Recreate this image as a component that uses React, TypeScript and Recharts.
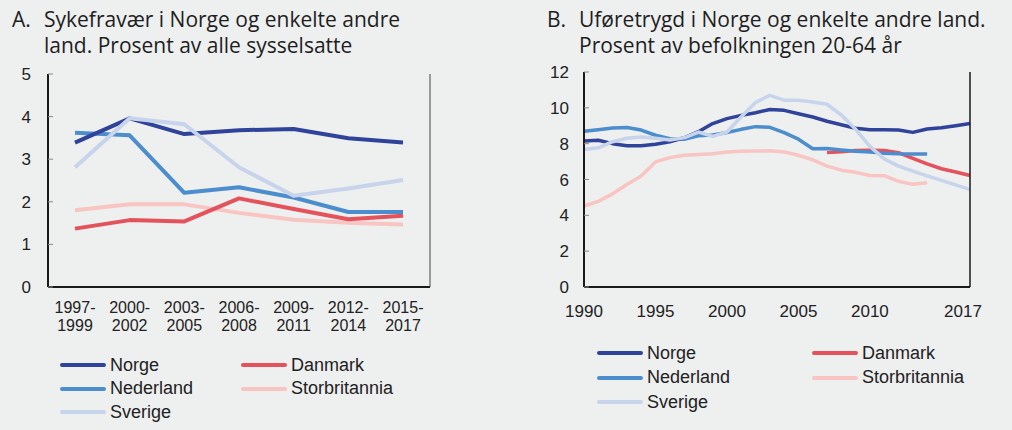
import * as React from 'react';
import { LineChart, Line, XAxis, YAxis } from 'recharts';

const categoriesA = ['1997-1999', '2000-2002', '2003-2005', '2006-2008', '2009-2011', '2012-2014', '2015-2017'];
const norgeA = [3.39, 3.96, 3.59, 3.68, 3.71, 3.49, 3.39];
const nederlandA = [3.62, 3.56, 2.21, 2.34, 2.1, 1.76, 1.76];
const sverigeA = [2.81, 3.96, 3.82, 2.81, 2.14, 2.31, 2.51];
const danmarkA = [1.37, 1.57, 1.54, 2.08, 1.83, 1.59, 1.67];
const storbritanniaA = [1.8, 1.94, 1.94, 1.74, 1.58, 1.51, 1.47];

const yearsB = [
  1990, 1991, 1992, 1993, 1994, 1995, 1996, 1997, 1998, 1999, 2000, 2001, 2002, 2003,
  2004, 2005, 2006, 2007, 2008, 2009, 2010, 2011, 2012, 2013, 2014, 2015, 2016, 2017,
];
const norgeB = [
  8.15, 8.19, 8.0, 7.88, 7.88, 7.97, 8.1, 8.33, 8.67, 9.12, 9.4, 9.58, 9.73, 9.91,
  9.86, 9.67, 9.49, 9.25, 9.06, 8.86, 8.78, 8.78, 8.76, 8.63, 8.82, 8.89, 9.0, 9.12,
];
const nederlandB = [
  8.69, 8.78, 8.87, 8.9, 8.76, 8.47, 8.28, 8.25, 8.44, 8.48, 8.62, 8.8, 8.95, 8.91,
  8.62, 8.25, 7.72, 7.73, 7.65, 7.58, 7.53, 7.47, 7.44, 7.43, 7.42, null, null, null,
];
const sverigeB = [
  7.67, 7.77, 8.11, 8.3, 8.37, 8.3, 8.21, 8.33, 8.65, 8.41, 8.65, 9.5, 10.3, 10.7,
  10.43, 10.42, 10.33, 10.2, 9.6, 8.8, 7.85, 7.15, 6.75, 6.47, 6.2, 5.95, 5.7, 5.43,
];
const danmarkB = [
  null, null, null, null, null, null, null, null, null, null, null, null, null, null,
  null, null, null, 7.5, 7.55, 7.62, 7.63, 7.62, 7.5, 7.18, 6.87, 6.6, 6.42, 6.22,
];
const storbritanniaB = [
  4.52, 4.78, 5.2, 5.72, 6.2, 6.98, 7.22, 7.35, 7.4, 7.44, 7.53, 7.57, 7.59, 7.6,
  7.54, 7.35, 7.1, 6.75, 6.52, 6.4, 6.22, 6.21, 5.9, 5.73, 5.82, null, null, null,
];

const ticksA = [0, 1, 2, 3, 4, 5];
const ticksB = [0, 2, 4, 6, 8, 10, 12];
const yearTicksB = [1990, 1995, 2000, 2005, 2010, 2017];

// draw order: light pink at the bottom, Sverige on top
const series = [
  { key: 'storbritannia', name: 'Storbritannia', color: '#f8c5c3' },
  { key: 'danmark', name: 'Danmark', color: '#e4525b' },
  { key: 'nederland', name: 'Nederland', color: '#4c8dcd' },
  { key: 'norge', name: 'Norge', color: '#30439a' },
  { key: 'sverige', name: 'Sverige', color: '#c7d4ec' },
];
const legendCol1 = ['norge', 'nederland', 'sverige'];
const legendCol2 = ['danmark', 'storbritannia'];

const dataA = categoriesA.map((cat, i) => ({
  cat,
  norge: norgeA[i],
  nederland: nederlandA[i],
  sverige: sverigeA[i],
  danmark: danmarkA[i],
  storbritannia: storbritanniaA[i],
}));

const dataB = yearsB.map((year, i) => ({
  year,
  norge: norgeB[i],
  nederland: nederlandB[i],
  sverige: sverigeB[i],
  danmark: danmarkB[i],
  storbritannia: storbritanniaB[i],
}));

const FONT = '"Liberation Sans", Arial, sans-serif';
const TEXT = '#222';
const tickStyle = { fontSize: 17, fill: TEXT, fontFamily: FONT };

function CategoryTick(props: any) {
  const { x, y, payload } = props;
  const [a, b] = String(payload.value).split('-');
  return (
    <text textAnchor="middle" fontSize={16} fill={TEXT} fontFamily={FONT}>
      <tspan x={x} y={y + 26}>{a}-</tspan>
      <tspan x={x} y={y + 44}>{b}</tspan>
    </text>
  );
}

// the last year label sits a little inside the right edge
function YearTick(props: any) {
  const { x, y, payload } = props;
  const shift = payload.value === 2017 ? -7 : 0;
  return (
    <text x={x + shift} y={y} dy="0.71em" textAnchor="middle" fontSize={17} fill={TEXT} fontFamily={FONT}>
      {payload.value}
    </text>
  );
}

function Title({ left, letter, lines }: { left: number; letter: string; lines: string[] }) {
  return (
    <div
      style={{
        position: 'absolute',
        left,
        top: 6,
        fontFamily: '"Open Sans", sans-serif',
        fontSize: 21,
        lineHeight: '26px',
        color: '#1e1e1e',
        display: 'flex',
      }}
    >
      <div style={{ width: 32 }}>{letter}</div>
      <div>
        {lines.map((l) => (
          <div key={l}>{l}</div>
        ))}
      </div>
    </div>
  );
}

function LegendBlock({ left, top, gap, col2 }: { left: number; top: number; gap: number; col2: number }) {
  const item = (key: string, x: number, y: number) => {
    const s = series.find((d) => d.key === key)!;
    return (
      <div key={key} style={{ position: 'absolute', left: x, top: y - 11, display: 'flex', alignItems: 'center', height: 22 }}>
        <div style={{ width: 46, height: 4, borderRadius: 2, background: s.color, marginRight: 4 }} />
        <span style={{ fontFamily: FONT, fontSize: 18, color: TEXT }}>{s.name}</span>
      </div>
    );
  };
  return (
    <>
      {legendCol1.map((k, i) => item(k, left, top + i * gap))}
      {legendCol2.map((k, i) => item(k, left + col2, top + i * gap))}
    </>
  );
}

export default function App() {
  return (
    <div style={{ position: 'absolute', left: 0, top: 0, width: 1012, height: 430, background: '#eeefef', overflow: 'hidden' }}>
      <Title left={12} letter="A." lines={['Sykefravær i Norge og enkelte andre', 'land. Prosent av alle sysselsatte']} />
      <Title left={547} letter="B." lines={['Uføretrygd i Norge og enkelte andre land.', 'Prosent av befolkningen 20-64 år']} />

      <div style={{ position: 'absolute', left: 0, top: 0 }}>
        <LineChart width={470} height={340} data={dataA} margin={{ top: 74, right: 0, bottom: 0, left: 0 }}>
          <XAxis
            dataKey="cat"
            height={53}
            padding={{ left: 27, right: 27 }}
            axisLine={{ stroke: '#1a1a1a', strokeWidth: 2 }}
            tickLine={false}
            tickSize={0}
            tickMargin={0}
            interval={0}
            tick={<CategoryTick />}
          />
          <YAxis
            yAxisId="left"
            width={48}
            domain={[0, 5]}
            ticks={ticksA}
            interval={0}
            axisLine={{ stroke: '#1a1a1a', strokeWidth: 2 }}
            tickLine={{ stroke: '#888' }}
            tickSize={-5}
            tickMargin={22}
            tick={tickStyle}
          />
          <YAxis
            yAxisId="right"
            orientation="right"
            width={40}
            domain={[0, 5]}
            ticks={ticksA}
            interval={0}
            axisLine={{ stroke: '#444', strokeWidth: 1 }}
            tickLine={{ stroke: '#888' }}
            tickSize={-5}
            tickMargin={16}
            tick={{ ...tickStyle, textAnchor: 'start' }}
          />
          {series.map((s) => (
            <Line
              key={s.key}
              yAxisId="left"
              type="linear"
              dataKey={s.key}
              name={s.name}
              stroke={s.color}
              strokeWidth={4}
              strokeLinejoin="round"
              dot={false}
              activeDot={false}
              isAnimationActive={false}
            />
          ))}
        </LineChart>
      </div>

      <div style={{ position: 'absolute', left: 520, top: 0 }}>
        <LineChart width={492} height={340} data={dataB} margin={{ top: 72, right: 0, bottom: 0, left: 0 }}>
          <XAxis
            dataKey="year"
            type="number"
            domain={[1990, 2017]}
            ticks={yearTicksB}
            interval={0}
            height={53}
            axisLine={{ stroke: '#1a1a1a', strokeWidth: 2 }}
            tickLine={false}
            tickSize={0}
            tickMargin={18}
            tick={<YearTick />}
          />
          <YAxis
            yAxisId="left"
            width={64}
            domain={[0, 12]}
            ticks={ticksB}
            interval={0}
            axisLine={{ stroke: '#1a1a1a', strokeWidth: 2 }}
            tickLine={{ stroke: '#888' }}
            tickSize={-5}
            tickMargin={20}
            tick={tickStyle}
          />
          <YAxis
            yAxisId="right"
            orientation="right"
            width={42}
            domain={[0, 12]}
            ticks={ticksB}
            interval={0}
            axisLine={{ stroke: '#1a1a1a', strokeWidth: 1.5 }}
            tickLine={{ stroke: '#888' }}
            tickSize={-5}
            tickMargin={17}
            tick={{ ...tickStyle, textAnchor: 'start' }}
          />
          {series.map((s) => (
            <Line
              key={s.key}
              yAxisId="left"
              type="linear"
              dataKey={s.key}
              name={s.name}
              stroke={s.color}
              strokeWidth={3.5}
              strokeLinejoin="round"
              dot={false}
              activeDot={false}
              isAnimationActive={false}
            />
          ))}
        </LineChart>
      </div>

      <LegendBlock left={60} top={365} gap={23.5} col2={181} />
      <LegendBlock left={597} top={353} gap={24.5} col2={215} />
    </div>
  );
}
